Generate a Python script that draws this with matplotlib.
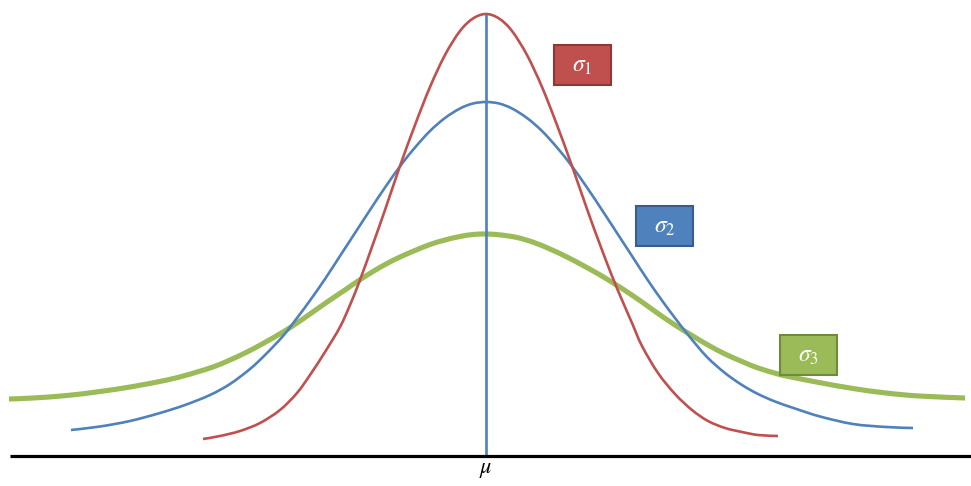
import numpy as np
import matplotlib
matplotlib.use('Agg')
from matplotlib import pyplot as plt
from matplotlib.patches import Rectangle, PathPatch
from matplotlib.path import Path

# curve points
# x is horizontal position, y is height above the base line (same pixel units)
red_x = [203, 220, 240, 260, 280, 297, 310, 325, 340, 350, 360, 373, 385, 400, 415, 430, 445, 460, 473, 486,
         499, 512, 527, 542, 557, 572, 587, 599, 612, 622, 632, 642, 658, 675, 692, 708, 725, 742, 758, 778]
red_y = [17, 20, 25, 33, 46, 63, 81, 104, 129, 151, 176, 212, 246, 290, 331, 369, 401, 425, 437.5, 442,
         437.5, 425, 401, 369, 331, 290, 247, 214, 180, 156, 133, 110, 83, 62, 46, 35, 28, 24, 21, 20]

blue_x = [71, 100, 130, 160, 185, 210, 230, 250, 265, 283, 297, 310, 325, 340, 355, 370, 385, 401, 415, 430,
          445, 460, 473, 486, 499, 512, 527, 542, 557, 571, 587, 602, 617, 632, 647, 662, 675, 689, 707,
          725, 742, 758, 775, 795, 820, 853, 886, 913]
blue_y = [26, 29.5, 35, 43, 51, 61, 72, 87, 101, 120, 138, 155.5, 177, 200, 223, 246, 268.5, 291, 308.5, 325,
          338, 347.5, 352.5, 354, 352.5, 347.5, 338, 325, 308.5, 291, 268.5, 246, 223, 200, 177, 155.5, 138, 120, 99,
          83, 71, 62, 54.5, 47.5, 39.5, 32, 29, 28]

green_x = [9, 33, 67, 100, 133, 167, 185, 197, 213, 230, 247, 263, 283, 297, 310, 330, 345, 358, 373, 387,
           400, 415, 430, 445, 460, 473, 486, 501, 517, 534, 551, 567, 584, 601, 614, 625, 642, 658, 675,
           692, 708, 725, 742, 758, 778, 786, 819, 853, 886, 919, 965]
green_y = [57, 58, 60.5, 64.5, 69.5, 76, 80.5, 84, 89, 96, 104, 112.5, 124, 133, 142, 156, 166, 175, 184.5, 192.5,
           199, 205.5, 211.5, 216, 219.5, 221.5, 222, 221, 218.5, 213.5, 206.5, 199, 190, 180.5, 172.5, 165.5, 154, 142.5, 131,
           120.5, 111, 102, 94.5, 88, 82, 80, 73.5, 67.5, 63, 60, 58]

labels = [r'$\sigma_1$', r'$\sigma_2$', r'$\sigma_3$']
mu_x = 486
mu_label = r'$\mu$'

# office style colours
red = '#C0504D'
blue = '#4F81BD'
green = '#9BBB59'

plt.rcParams['mathtext.fontset'] = 'stix'


def SmoothLine(ax, x, y, color, lw, z):
    # draw the read points as one smooth bezier path (like a "smoothed line")
    pts = np.column_stack([x, y]).astype(float)
    verts = [pts[0]]
    codes = [Path.MOVETO]
    for ii in range(len(pts) - 1):
        p0 = pts[max(ii - 1, 0)]
        p1 = pts[ii]
        p2 = pts[ii + 1]
        p3 = pts[min(ii + 2, len(pts) - 1)]
        verts += [p1 + (p2 - p0) / 6, p2 - (p3 - p1) / 6, p2]
        codes += [Path.CURVE4] * 3
    patch = PathPatch(Path(verts, codes), facecolor='none', edgecolor=color, linewidth=lw,
                      capstyle='butt', joinstyle='round', zorder=z)
    ax.add_patch(patch)


fig = plt.figure(figsize=(9.71, 4.86), dpi=100)
ax = fig.add_axes([0, 0, 1, 1])
# one data unit = one pixel
ax.set_xlim(0, 971)
ax.set_ylim(-30, 456)
ax.axis('off')

# curves, widest at the back
SmoothLine(ax, green_x, green_y, green, 3.7, 2)
SmoothLine(ax, blue_x, blue_y, blue, 1.9, 3)
SmoothLine(ax, red_x, red_y, red, 1.9, 4)

# mean line and base line
ax.plot([mu_x, mu_x], [0, max(red_y)], color=blue, linewidth=1.9, solid_capstyle='butt', zorder=5)
ax.plot([10, 971], [0.5, 0.5], color='black', linewidth=2.3, solid_capstyle='butt', zorder=6)
ax.text(mu_x, -14, mu_label, fontsize=16, ha='center', va='center', color='black')

# label boxes: (left, bottom) of each box
boxes = [(554, 371, red, '#8C3836'), (636, 210, blue, '#385D8A'), (780, 81, green, '#71893F')]
for (bx, by, fc, ec), lab in zip(boxes, labels):
    ax.add_patch(Rectangle((bx, by), 57, 40, facecolor=fc, edgecolor=ec, linewidth=1.5, zorder=7))
    ax.text(bx + 28.5, by + 20, lab, fontsize=17, color='white', ha='center', va='center', zorder=8)

plt.savefig('out.png', dpi=100)
